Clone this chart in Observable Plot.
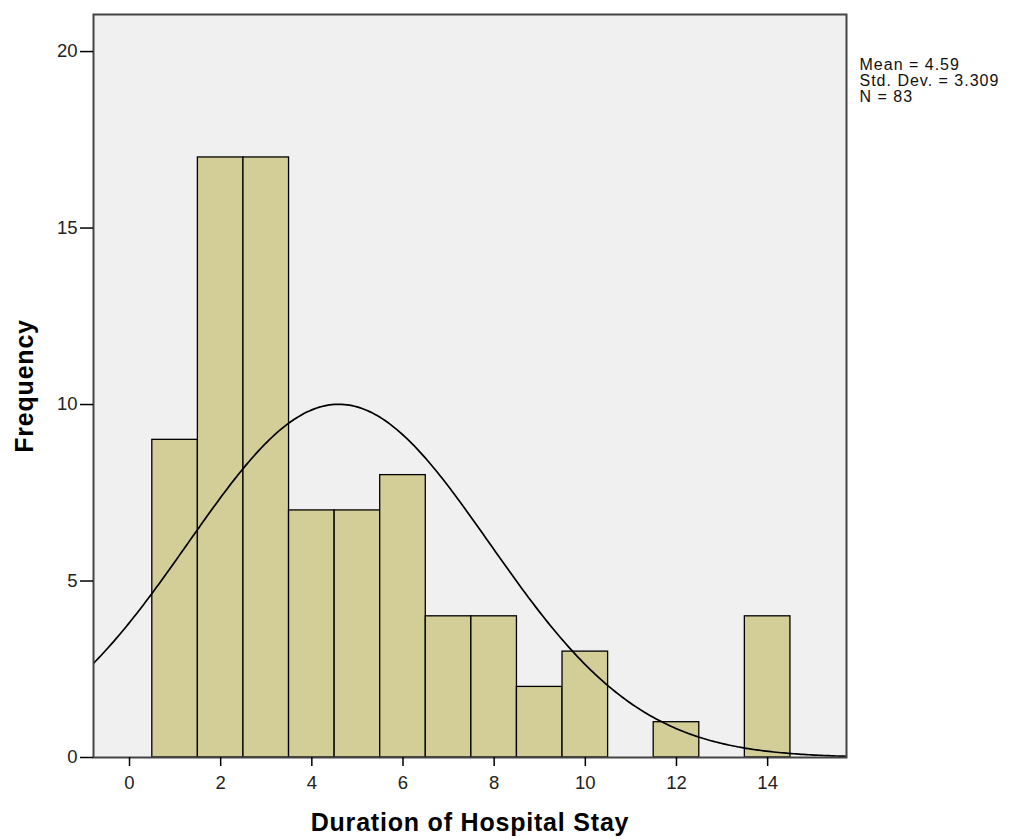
<!DOCTYPE html>
<html>
<head>
<meta charset="utf-8">
<script src="https://cdn.jsdelivr.net/npm/d3@7"></script>
<script src="https://cdn.jsdelivr.net/npm/@observablehq/plot@0.6"></script>
<style>
  html, body { margin: 0; padding: 0; background: #fff; }
  #chart { position: relative; width: 1013px; height: 839px; }
</style>
</head>
<body>
<div id="chart"></div>
<script>
// Histogram bins (bin centres, width 1) and frequencies
const binCenters = [1, 2, 3, 4, 5, 6, 7, 8, 9, 10, 11, 12, 13, 14];
const frequencies = [9, 17, 17, 7, 7, 8, 4, 4, 2, 3, 0, 1, 0, 4];
const xTicks = [0, 2, 4, 6, 8, 10, 12, 14];
const yTicks = [0, 5, 10, 15, 20];
// Statistics shown in the chart
const statMean = 4.59;
const statSD = 3.309;
const statN = 83;
const binWidth = 1;

const bins = binCenters.map((c, i) => ({x1: c - binWidth / 2, x2: c + binWidth / 2, y: frequencies[i]}))
  .filter(d => d.y > 0);

const xDomain = [-0.79, 15.73];
// Fitted normal curve from the displayed mean, SD and N
const curve = d3.range(0, 301).map(i => {
  const x = xDomain[0] + (xDomain[1] - xDomain[0]) * i / 300;
  const z = (x - statMean) / statSD;
  return {x, y: statN * binWidth * Math.exp(-0.5 * z * z) / (statSD * Math.sqrt(2 * Math.PI))};
});

const statsText = `Mean = ${statMean}\nStd. Dev. = ${statSD}\nN = ${statN}`;
const font = "Liberation Sans, Arial, sans-serif";

const chart = Plot.plot({
  width: 1013,
  height: 839,
  marginLeft: 93,
  marginTop: 14,
  marginRight: 167,
  marginBottom: 82,
  style: {fontFamily: font, fontSize: "18.5px", background: "#fff", overflow: "visible"},
  x: {domain: xDomain},
  y: {domain: [0, 21.05]},
  marks: [
    Plot.frame({fill: "#f0f0f0"}),
    Plot.rectY(bins, {x1: "x1", x2: "x2", y: "y", fill: "#d3ce97", stroke: "#000", strokeWidth: 1.3}),
    Plot.line(curve, {x: "x", y: "y", stroke: "#000", strokeWidth: 1.7, clip: true}),
    Plot.frame({stroke: "#444", strokeWidth: 2}),
    Plot.axisY(yTicks, {tickSize: 13, tickPadding: 3, fill: "#222", label: null, stroke: "#000", strokeWidth: 1.5}),
    Plot.axisX(xTicks, {tickSize: 9, tickPadding: 9, fill: "#222", label: null, stroke: "#000", strokeWidth: 1.5}),
    Plot.text([statsText], {frameAnchor: "top-right", dx: 13, dy: 44, textAnchor: "start", lineAnchor: "top", lineHeight: 1.0, fontSize: 16, fill: "#111"}),
    Plot.text(["Frequency"], {frameAnchor: "left", dx: -69, rotate: -90, textAnchor: "middle", lineAnchor: "middle", fontSize: 25, fontWeight: "bold", fill: "#000"}),
    Plot.text(["Duration of Hospital Stay"], {frameAnchor: "bottom", dy: 65, textAnchor: "middle", lineAnchor: "middle", fontSize: 25, fontWeight: "bold", fill: "#000"})
  ]
});
chart.querySelectorAll("text").forEach(t => {
  const s = t.textContent;
  if (s === "Frequency" || s === "Duration of Hospital Stay") t.setAttribute("letter-spacing", "0.8");
  if (s.startsWith("Mean")) t.setAttribute("letter-spacing", "1");
});
document.getElementById("chart").appendChild(chart);
</script>
</body>
</html>
